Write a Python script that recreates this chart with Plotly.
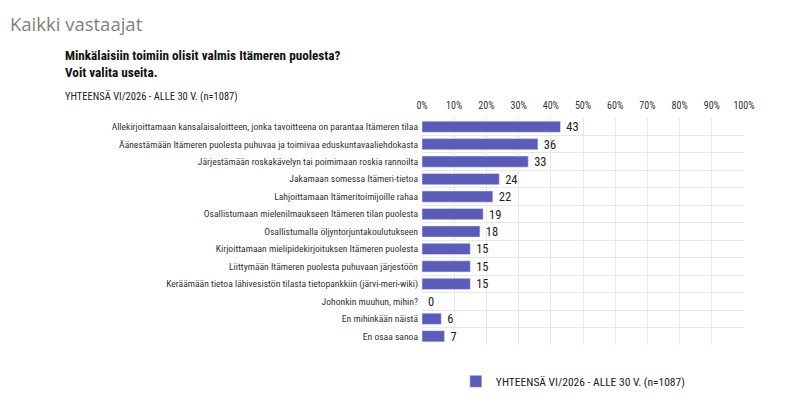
import plotly.graph_objects as go

# answer options, top to bottom as in the chart
categories = [
    "Allekirjoittamaan kansalaisaloitteen, jonka tavoitteena on parantaa Itämeren tilaa",
    "Äänestämään Itämeren puolesta puhuvaa ja toimivaa eduskuntavaaliehdokasta",
    "Järjestämään roskakävelyn tai poimimaan roskia rannoilta",
    "Jakamaan somessa Itämeri-tietoa",
    "Lahjoittamaan Itämeritoimijoille rahaa",
    "Osallistumaan mielenilmaukseen Itämeren tilan puolesta",
    "Osallistumalla öljyntorjuntakoulutukseen",
    "Kirjoittamaan mielipidekirjoituksen Itämeren puolesta",
    "Liittymään Itämeren puolesta puhuvaan järjestöön",
    "Keräämään tietoa lähivesistön tilasta tietopankkiin (järvi-meri-wiki)",
    "Johonkin muuhun, mihin?",
    "En mihinkään näistä",
    "En osaa sanoa",
]
values = [43, 36, 33, 24, 22, 19, 18, 15, 15, 15, 0, 6, 7]
tick_pct = list(range(0, 101, 10))
tick_labels = [f"{t}%" for t in tick_pct]
series_name = "YHTEENSÄ VI/2026 - ALLE 30 V. (n=1087)"

FONT = "Liberation Sans Narrow, Roboto Condensed, Roboto, sans-serif"
rows = list(range(len(categories)))

# page body has an 8px margin, so the figure is shifted by that much
fig = go.Figure(go.Bar(
    x=values,
    y=rows,
    orientation="h",
    name=series_name,
    marker=dict(color="#5b5cb9"),
    text=values,
    texttemplate=" %{text}",
    textposition="outside",
    constraintext="none",
    textfont=dict(size=12.5, color="#222222", family=FONT),
    cliponaxis=False,
    showlegend=True,
))

fig.update_layout(
    width=800, height=420,
    margin=dict(l=414, r=64, t=110, b=83),
    paper_bgcolor="white", plot_bgcolor="white",
    bargap=0.36,
    font=dict(family=FONT, color="#222222"),
    legend=dict(orientation="h", x=0.47, xanchor="center", y=-0.16, yanchor="middle",
                itemwidth=30, font=dict(size=11.5, family=FONT, color="#222222")),
    xaxis=dict(range=[0, 100], side="top", tickvals=tick_pct, ticktext=tick_labels,
               showgrid=True, gridcolor="#e8e8e8", gridwidth=1, zeroline=False,
               showline=False, ticks="", ticklabelstandoff=6,
               tickfont=dict(size=10, family=FONT, color="#333333"),
               fixedrange=True),
    yaxis=dict(range=[len(categories) - 0.5, -0.5], tickvals=rows, ticktext=categories,
               showgrid=False, zeroline=False, ticks="", ticklabelstandoff=3,
               tickfont=dict(size=9.6, family=FONT, color="#333333"),
               minor=dict(tick0=0.5, dtick=1, showgrid=True, gridcolor="#e8e8e8", ticks=""),
               showline=False),
)

# page title and question text
fig.add_annotation(text="Kaikki vastaajat", xref="paper", yref="paper", x=-414/322, y=1 + 109/227,
                   xanchor="left", yanchor="top", showarrow=False,
                   font=dict(size=18.5, family="Open Sans, sans-serif", color="#808080"))
fig.add_annotation(text="<b>Minkälaisiin toimiin olisit valmis Itämeren puolesta?<br>Voit valita useita.</b>",
                   xref="paper", yref="paper", x=-359/322, y=1 + 54/227, align="left",
                   xanchor="left", yanchor="middle", showarrow=False,
                   font=dict(size=13.2, family=FONT, color="#111111"))
fig.add_annotation(text=series_name, xref="paper", yref="paper", x=-359/322, y=1 + 21/227,
                   xanchor="left", yanchor="middle", showarrow=False,
                   font=dict(size=10.5, family=FONT, color="#222222"))

fig.write_html("out.html")
